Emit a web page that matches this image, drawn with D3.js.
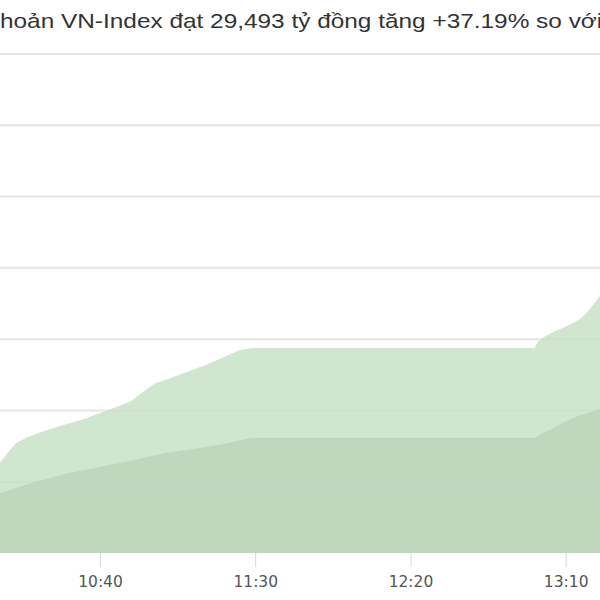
<!DOCTYPE html>
<html>
<head>
<meta charset="utf-8">
<script src="https://cdn.jsdelivr.net/npm/d3@7/dist/d3.min.js"></script>
<style>
body { margin: 0; background: #fff; }
svg { display: block; }
</style>
</head>
<body>
<div id="chart_container"></div>
<script>
var titleText = "Thanh khoản VN-Index đạt 29,493 tỷ đồng tăng +37.19% so với phiên trước";

// today's cumulative liquidity (tỷ đồng)
var todayTimes = ["10:05", "10:07", "10:09", "10:11", "10:13", "10:16", "10:21", "10:27", "10:34", "10:40",
    "10:47", "10:50", "10:53", "10:56", "10:58", "11:01", "11:08", "11:14", "11:20", "11:25", "11:29",
    "13:00", "13:01", "13:03", "13:06", "13:09", "13:13", "13:15", "13:17", "13:20", "13:22"];
var todayValues = [5820, 6170, 6660, 7220, 7710, 8070, 8490, 8910, 9330, 9820,
    10380, 10660, 11150, 11640, 11920, 12130, 12690, 13180, 13750, 14240, 14380,
    14380, 14800, 15150, 15500, 15780, 16200, 16480, 16900, 17750, 18310];

// previous session
var prevTimes = ["10:05", "10:08", "10:19", "10:30", "10:40", "10:51", "11:01", "11:12", "11:18", "11:23", "11:27", "11:29",
    "13:00", "13:02", "13:06", "13:09", "13:13", "13:17", "13:20", "13:22"];
var prevValues = [3850, 4210, 4980, 5610, 6030, 6520, 7010, 7360, 7570, 7790, 7990, 8070,
    8070, 8350, 8770, 9120, 9540, 9820, 10030, 10170];

var tickLabels = ["09:50", "10:40", "11:30", "12:20", "13:10", "14:00"];
var gridValues = [5000, 10000, 15000, 20000, 25000, 30000, 35000];

var parseTime = d3.timeParse("%H:%M");
var fmtTime = d3.timeFormat("%H:%M");

var svg = d3.select("#chart_container").append("svg")
    .attr("width", 600)
    .attr("height", 600);

var x = d3.scaleTime()
    .domain([parseTime("10:40"), parseTime("13:10")])
    .range([100, 565.7]);
var y = d3.scaleLinear()
    .domain([0, 35000])
    .range([553, 54]);

// gridlines
svg.append("g").attr("class", "grid")
    .selectAll("line")
    .data(gridValues)
    .enter().append("line")
    .attr("x1", 0)
    .attr("x2", 600)
    .attr("y1", function(d) { return y(d); })
    .attr("y2", function(d) { return y(d); })
    .attr("stroke", "#e6e6e6")
    .attr("stroke-width", 2);

var area = d3.area()
    .x(function(d) { return x(d.t); })
    .y0(y(0))
    .y1(function(d) { return y(d.v); });

var today = todayTimes.map(function(t, i) {
    return { t: parseTime(t), v: todayValues[i] };
});
var prev = prevTimes.map(function(t, i) {
    return { t: parseTime(t), v: prevValues[i] };
});

svg.append("path")
    .datum(today)
    .attr("d", area)
    .attr("fill", "rgb(196,224,194)")
    .attr("fill-opacity", 0.8);

svg.append("path")
    .datum(prev)
    .attr("d", area)
    .attr("fill", "rgb(188,211,186)")
    .attr("fill-opacity", 0.8);

// x axis
var xAxis = d3.axisBottom(x)
    .tickValues(tickLabels.map(parseTime))
    .tickFormat(fmtTime)
    .tickSize(14)
    .tickSizeOuter(0);

var gx = svg.append("g")
    .attr("transform", "translate(0,553)")
    .call(xAxis);
gx.select(".domain").remove();
gx.selectAll(".tick line").attr("stroke", "#ccd6eb");
gx.selectAll(".tick text")
    .attr("y", 34)
    .attr("dy", 0)
    .attr("fill", "#555")
    .style("font-family", "'DejaVu Sans', Verdana, sans-serif")
    .style("font-size", "15.5px");

// title: the picture is cropped, so it starts mid-word and looks stretched sideways
var title = svg.append("text")
    .attr("y", 28)
    .attr("fill", "#333")
    .style("font-family", "'Liberation Sans', Arial, sans-serif")
    .style("font-size", "20px");
title.text("Thanh k");
var cut = title.node().getComputedTextLength();
title.text("hoản VN-Index đạt 29,493 tỷ đồng tăng +37.19% so vớ");
var seen = title.node().getComputedTextLength();
var sx = 597 / seen;
title.text(titleText)
    .attr("x", -cut)
    .attr("transform", "scale(" + sx + ",1)");
</script>
</body>
</html>
